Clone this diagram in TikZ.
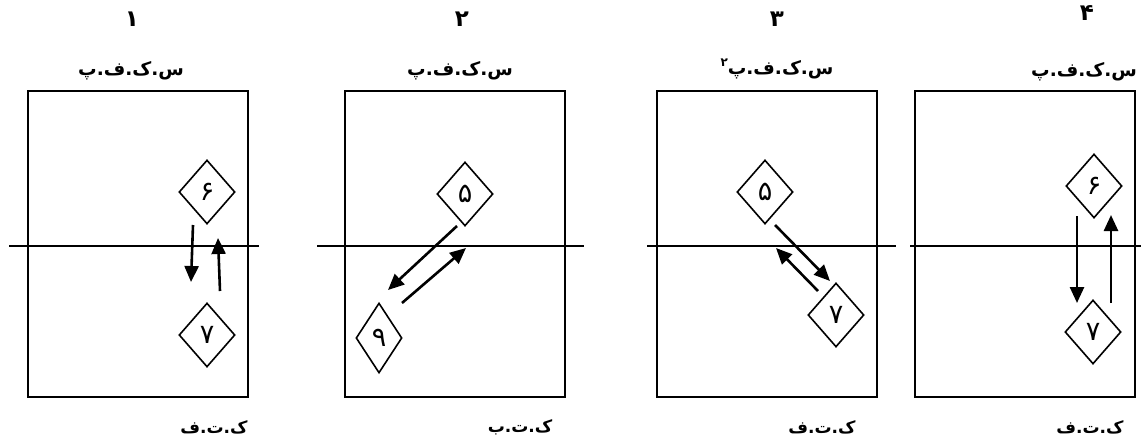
\documentclass[tikz,border=0pt]{standalone}
\usepackage{fontspec}
\newfontfamily\arabicfont[Script=Arabic]{DejaVu Sans}
\TeXXeTstate=1
\usetikzlibrary{shapes.geometric,arrows.meta}

\tikzset{
  frame/.style={line width=2.4pt},
  divide/.style={line width=2.6pt},
  state/.style={draw, diamond, line width=1.6pt, minimum width=56pt, minimum height=64pt, inner sep=0pt,
    font=\arabicfont\fontsize{27}{27}\selectfont},
  move/.style={line width=2.6pt, -{Triangle[length=16pt,width=14pt]}},
  numlabel/.style={font=\arabicfont\bfseries\fontsize{23}{23}\selectfont},
  toplabel/.style={font=\arabicfont\bfseries\fontsize{18.5}{18.5}\selectfont},
  botlabel/.style={font=\arabicfont\bfseries\fontsize{17}{17}\selectfont},
}

\begin{document}
\begin{tikzpicture}[x=1pt,y=-1pt]
  \useasboundingbox (0,0) rectangle (1141,444);

  % panel 1
  \draw[frame] (28,91) rectangle (248,397);
  \draw[divide] (9,246) -- (259,246);
  \node[numlabel] (n1) at (132,19) {۱};
  \node[toplabel] (t1) at (131,71) {\beginR س.ک.ف.پ\endR};
  \node[botlabel] (b1) at (214,427) {\beginR ک.ت.ف\endR};
  \node[state] (a6) at (207,192) {۶};
  \node[state] (a7) at (207,335) {۷};
  \coordinate (a-down-s) at (193,225);
  \coordinate (a-down-e) at (191,282);
  \coordinate (a-up-s) at (220,291);
  \coordinate (a-up-e) at (218,238);
  \draw[move] (a-down-s) -- (a-down-e);
  \draw[move] (a-up-s) -- (a-up-e);

  % panel 2
  \draw[frame] (345,91) rectangle (565,397);
  \draw[divide] (317,246) -- (584,246);
  \node[numlabel] (n2) at (462,19) {۲};
  \node[toplabel] (t2) at (460,71) {\beginR س.ک.ف.پ\endR};
  \node[botlabel] (b2) at (520,427) {\beginR ک.ت.ب\endR};
  \node[state] (b5) at (465,194) {۵};
  \node[state, minimum width=46pt, minimum height=70pt] (b9) at (379,338) {۹};
  \coordinate (b-down-s) at (457,226);
  \coordinate (b-down-e) at (388,290);
  \coordinate (b-up-s) at (402,303);
  \coordinate (b-up-e) at (466,248);
  \draw[move] (b-down-s) -- (b-down-e);
  \draw[move] (b-up-s) -- (b-up-e);

  % panel 3
  \draw[frame] (657,91) rectangle (877,397);
  \draw[divide] (647,246) -- (896,246);
  \node[numlabel] (n3) at (777,19) {۳};
  \node[toplabel] (t3) at (777,69) {\beginR س.ک.ف.پ\raisebox{0.8ex}{\fontsize{12}{12}\selectfont ۲}\endR};
  \node[botlabel] (b3) at (822,427) {\beginR ک.ت.ف\endR};
  \node[state] (c5) at (765,192) {۵};
  \node[state] (c7) at (836,315) {۷};
  \coordinate (c-down-s) at (775,225);
  \coordinate (c-down-e) at (830,281);
  \coordinate (c-up-s) at (818,291);
  \coordinate (c-up-e) at (776,248);
  \draw[move] (c-down-s) -- (c-down-e);
  \draw[move] (c-up-s) -- (c-up-e);

  % panel 4
  \draw[frame] (915,91) rectangle (1135,397);
  \draw[divide] (910,246) -- (1141,246);
  \node[numlabel] (n4) at (1087,13) {۴};
  \node[toplabel] (t4) at (1084,72) {\beginR س.ک.ف.پ\endR};
  \node[botlabel] (b4) at (1090,427) {\beginR ک.ت.ف\endR};
  \node[state] (d6) at (1094,186) {۶};
  \node[state] (d7) at (1093,332) {۷};
  \coordinate (d-down-s) at (1077,216);
  \coordinate (d-down-e) at (1077,303);
  \coordinate (d-up-s) at (1111,303);
  \coordinate (d-up-e) at (1111,215);
  \draw[move] (d-down-s) -- (d-down-e);
  \draw[move] (d-up-s) -- (d-up-e);
\end{tikzpicture}
\end{document}
